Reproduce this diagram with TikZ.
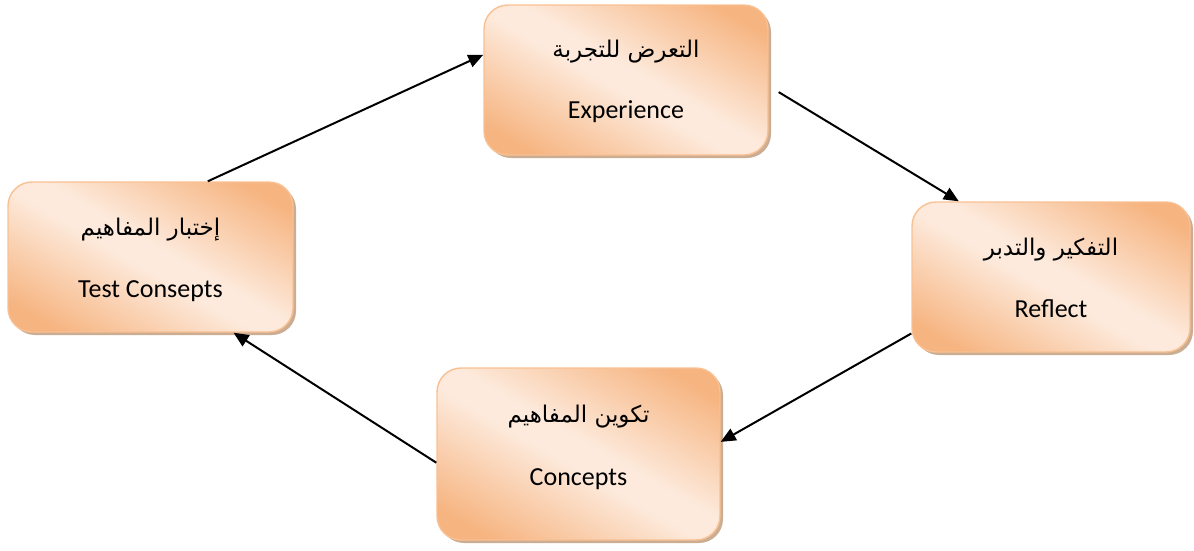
\documentclass[tikz,border=0pt]{standalone}
\usepackage{fontspec}
\setmainfont{Carlito}
\newfontfamily\arabicfont[Script=Arabic]{DejaVu Sans}
\TeXXeTstate=1
\usetikzlibrary{arrows.meta,shadows,calc}

\definecolor{boxorange}{RGB}{246,180,128}
\definecolor{boxlight}{RGB}{253,234,220}
\definecolor{boxedge}{RGB}{249,192,146}
\definecolor{boxshadow}{RGB}{196,164,134}

% orange at both ends, pale in the middle
\pgfdeclareverticalshading{stageshade}{100bp}{%
  color(0bp)=(boxorange); color(22bp)=(boxorange); color(47bp)=(boxlight);
  color(53bp)=(boxlight); color(78bp)=(boxorange); color(100bp)=(boxorange)}

\begin{document}
\begin{tikzpicture}[x=1pt,y=-1pt,
  stagebox/.style={rectangle, rounded corners=24pt, draw=boxedge, line width=1.4pt,
    shading=stageshade, shading angle=-30,
    drop shadow={shadow xshift=3pt, shadow yshift=-3pt, fill=boxshadow, opacity=0.9},
    inner sep=0pt},
  artext/.style={anchor=base, inner sep=0pt, font=\arabicfont\fontsize{23}{25}\selectfont},
  entext/.style={anchor=base, inner sep=0pt, font=\fontsize{26}{30}\selectfont},
  flow/.style={line width=2pt, -{Triangle[length=15pt,width=13pt]}}]

\useasboundingbox (0,0) rectangle (1194,550);

% the four stages of the cycle
\node[stagebox, minimum width=284pt, minimum height=150pt] (exp) at (626,80) {};
\node[stagebox, minimum width=285pt, minimum height=150pt] (test) at (150.5,257) {};
\node[stagebox, minimum width=278pt, minimum height=150pt] (refl) at (1051,277) {};
\node[stagebox, minimum width=283pt, minimum height=172pt] (conc) at (578.5,454) {};

% labels: Arabic above, English below
\node[artext] (expAr) at (626,57) {\beginR التعرض للتجربة\endR};
\node[entext] (expEn) at (626,118) {Experience};
\node[artext] (testAr) at (150.5,235) {\beginR إختبار المفاهيم\endR};
\node[entext] (testEn) at (150.5,297) {Test Consepts};
\node[artext] (reflAr) at (1051,255) {\beginR التفكير والتدبر\endR};
\node[entext] (reflEn) at (1051,317) {Reflect};
\node[artext] (concAr) at (578.5,422) {\beginR تكوين المفاهيم\endR};
\node[entext] (concEn) at (578.5,485) {Concepts};

% arrows around the cycle
\draw[flow] ($(test.north west)!0.70!(test.north east)$) -- ($(exp.north west)!0.333!(exp.south west)$);
\draw[flow] ($(exp.north east)!0.58!(exp.south east)+(10,0)$) -- ($(refl.north west)!0.17!(refl.north east)$);
\draw[flow] ($(refl.north west)!0.873!(refl.south west)$) -- ($(conc.north east)!0.43!(conc.south east)$);
\draw[flow] ($(conc.north west)!0.55!(conc.south west)$) -- ($(test.south west)!0.79!(test.south east)$);
\end{tikzpicture}
\end{document}
